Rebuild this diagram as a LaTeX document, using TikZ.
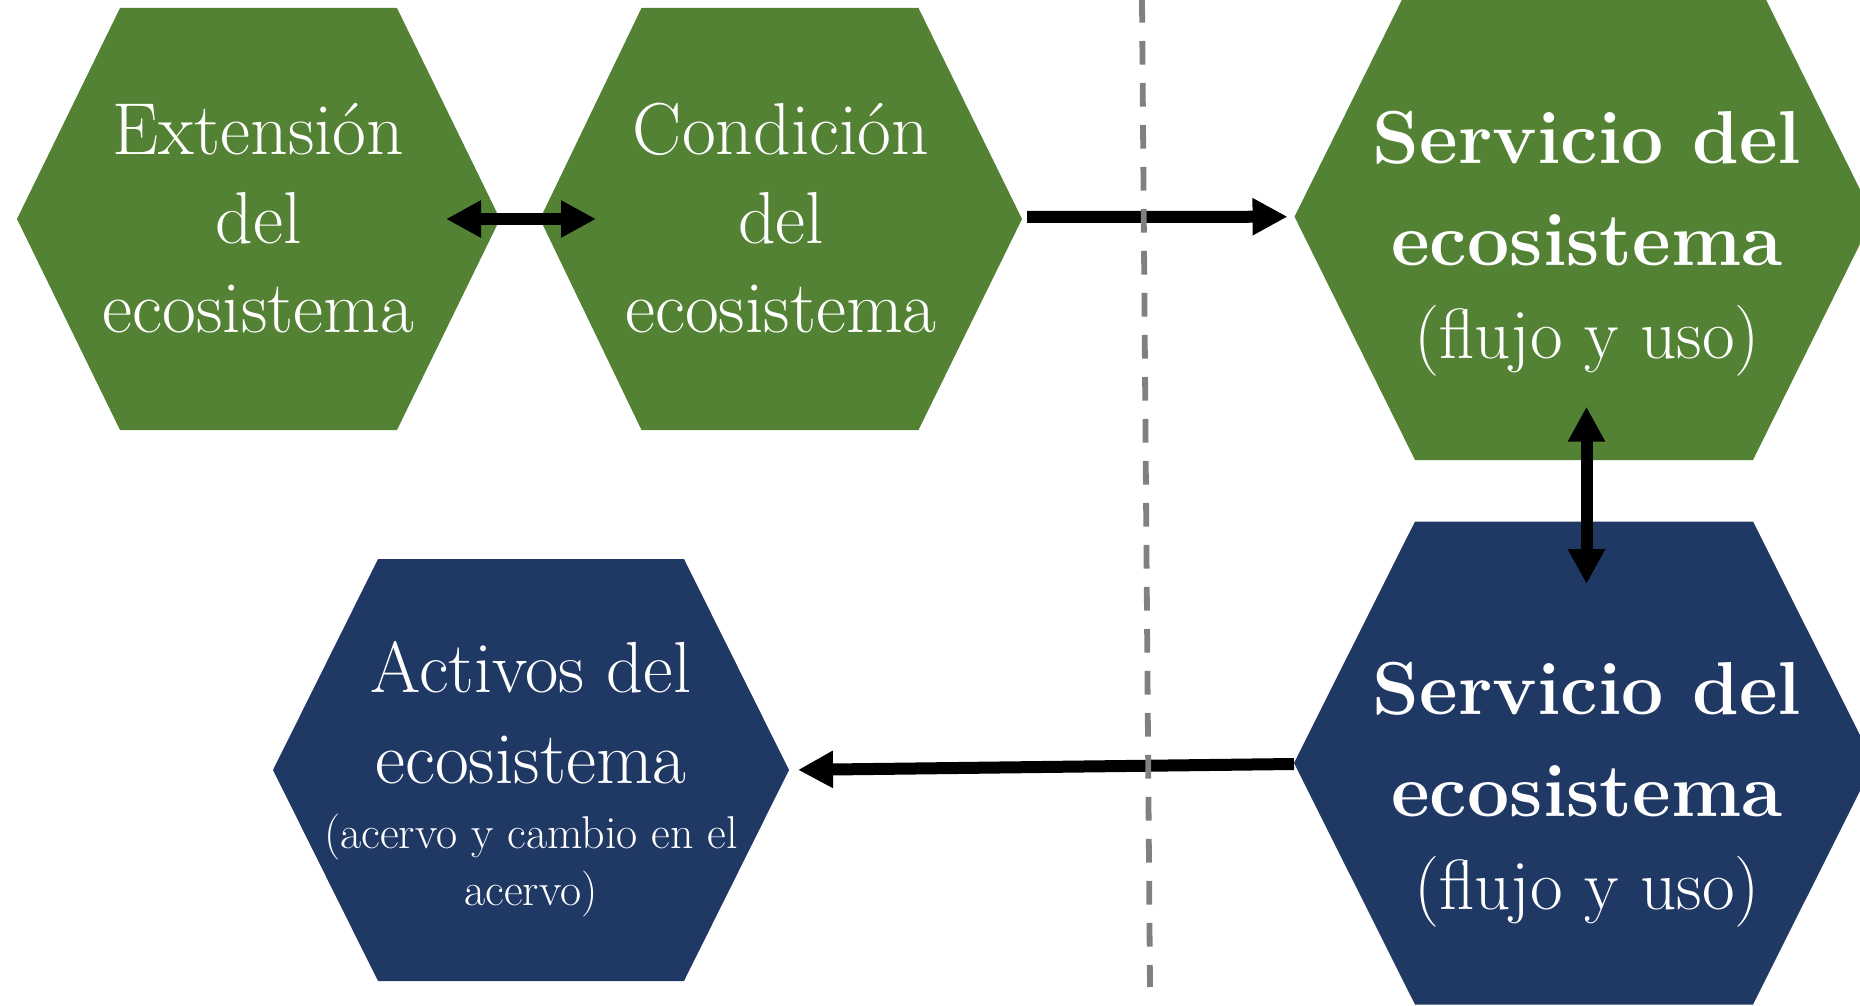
\documentclass[tikz,border=0pt]{standalone}
\usetikzlibrary{arrows.meta}
\begin{document}
\begin{tikzpicture}[x=0.5pt,y=0.5pt,yscale=-1,
  hexverde/.style={fill={rgb,255:red,84;green,130;blue,53}},
  hexazul/.style={fill={rgb,255:red,32;green,56;blue,100}},
  flecha/.style={line width=6pt,-{Triangle[length=17.5pt,width=17.5pt]}},
  dobleflecha/.style={line width=6pt,{Triangle[length=17.5pt,width=17.5pt]}-{Triangle[length=17.5pt,width=17.5pt]}},
  texto/.style={text=white,align=center,inner sep=0pt,font=\fontsize{36.8}{44.5}\selectfont},
  titulo/.style={text=white,align=center,inner sep=0pt,font=\fontsize{37.5}{51}\selectfont\bfseries}]
%set diagram size to 1860 x 1006
\clip (0,0) rectangle (1860,1006);
\fill[white] (0,0) rectangle (1860,1006);

%Shape: Hexagon (extension)
\fill[hexverde] (17,219) -- (120,8) -- (397,8) -- (500,219) -- (397,430) -- (120,430) -- cycle;
%Shape: Hexagon (condicion)
\fill[hexverde] (540,219) -- (641.5,8) -- (918.5,8) -- (1022,219) -- (918.5,430) -- (641.5,430) -- cycle;
%Shape: Hexagon (servicio, flujo)
\fill[hexverde] (1294.5,216.7) -- (1415,-26.6) -- (1753,-26.6) -- (1873.5,216.7) -- (1753,460) -- (1415,460) -- cycle;
%Shape: Hexagon (servicio, uso)
\fill[hexazul] (1294,763) -- (1415,521.5) -- (1753,521.5) -- (1874,763) -- (1753,1004.5) -- (1415,1004.5) -- cycle;
%Shape: Hexagon (activos)
\fill[hexazul] (273,770) -- (378,559) -- (684,559) -- (789,770) -- (684,981) -- (378,981) -- cycle;

% Points on the hexagons
\coordinate (cond-e) at (1022,217);
\coordinate (serv-w) at (1294.5,216.7);
\coordinate (serv2-w) at (1294,764);
\coordinate (act-e) at (789,770);
\coordinate (dob-a) at (446,219);
\coordinate (dob-b) at (596,219);
\coordinate (ver-a) at (1586.5,406.7);
\coordinate (ver-b) at (1586.5,584);
\coordinate (corte-a) at (1142,-1);
\coordinate (corte-b) at (1150,987);

% Text Node
\node[texto] (ext) at (258.5,218) {Extensión\\del\\ecosistema};
% Text Node
\node[texto] (cond) at (781,218) {Condición\\del\\ecosistema};
% Text Node
\node[titulo] (serv) at (1587,244) {Servicio del\\ecosistema\\[-4.5pt]{\mdseries\fontsize{35.5}{44.5}\selectfont(flujo y uso)}};
% Text Node
\node[titulo] (serv2) at (1587,795) {Servicio del\\ecosistema\\[-4.5pt]{\mdseries\fontsize{35.5}{44.5}\selectfont(flujo y uso)}};
% Text Node
\node[texto] (act) at (531,779) {{\fontsize{36.2}{44.5}\selectfont Activos del}\\[1pt]ecosistema\\[-12pt]{\fontsize{23}{28.5}\selectfont(acervo y cambio en el}\\[-16pt]{\fontsize{23}{28.5}\selectfont acervo)}};

%Straight Lines
\draw[dobleflecha] (dob-a) -- (dob-b);
\draw[flecha,shorten <=2.5pt,shorten >=3.5pt] (cond-e) -- (serv-w);
\draw[dobleflecha] (ver-a) -- (ver-b);
\draw[flecha,shorten >=4.5pt] (serv2-w) -- (act-e);

%Dashed line
\draw[line width=2.9pt,color={rgb,255:red,128;green,128;blue,128},dash pattern=on 11.8pt off 9.2pt] (corte-a) -- (corte-b);

\end{tikzpicture}
\end{document}
